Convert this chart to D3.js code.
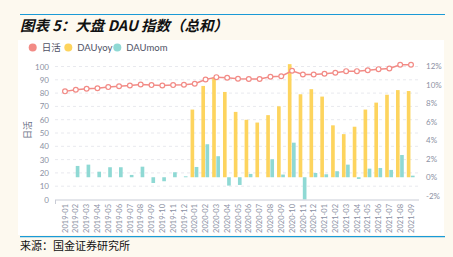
<!DOCTYPE html>
<html>
<head>
    <meta charset="utf-8">
    <script src="https://d3js.org/d3.v7.min.js"></script>
    <style>
        body { margin: 0; background: #fdf9ef; }
        svg { display: block; }
    </style>
</head>
<body>
    <div id="chart"></div>

    <script>

        // 월별 데이터
        const months = [
            "2019-01","2019-02","2019-03","2019-04","2019-05","2019-06","2019-07","2019-08","2019-09","2019-10","2019-11","2019-12",
            "2020-01","2020-02","2020-03","2020-04","2020-05","2020-06","2020-07","2020-08","2020-09","2020-10","2020-11","2020-12",
            "2021-01","2021-02","2021-03","2021-04","2021-05","2021-06","2021-07","2021-08","2021-09"
        ];
        const dau = [
            81.3, 82.5, 83.3, 83.7, 84.5, 85.2, 85.7, 86.5, 86.0, 85.7, 86.0, 86.3,
            87.0, 90.2, 92.0, 91.5, 90.8, 90.6, 90.6, 92.3, 92.7, 96.8, 94.0, 94.0,
            94.5, 95.3, 96.5, 96.5, 97.2, 98.0, 98.5, 101.3, 101.3
        ];
        const dauYoy = [
            null, null, null, null, null, null, null, null, null, null, null, null,
            7.3, 9.85, 10.75, 9.2, 7.05, 6.2, 5.9, 6.7, 7.65, 12.2, 8.95, 9.5,
            8.7, 5.6, 4.65, 5.45, 7.3, 8.05, 8.9, 9.4, 9.3
        ];
        const dauMom = [
            null, 1.22, 1.36, 0.6, 1.08, 1.08, 0.25, 1.14, -0.62, -0.43, 0.54, 0.1,
            1.11, 3.56, 2.27, -0.9, -0.83, 0.36, 0, 1.94, 0.29, 3.73, -2.4, 0.46,
            0.32, 0.65, 1.36, -0.18, 0.93, 1.0, 0.79, 2.4, 0.17
        ];
        const leftTicks = [0, 10, 20, 30, 40, 50, 60, 70, 80, 90, 100];
        const rightTicks = [-2, 0, 2, 4, 6, 8, 10, 12];
        const legendNames = ["日活", "DAUyoy", "DAUmom"];

        const width = 453, height = 257;
        const colRed = "#f28b86", colYellow = "#fdd45e", colTeal = "#8fd9d4";
        const font = "Lato, 'Noto Sans CJK SC', sans-serif";

        const svg = d3.select("#chart")
            .append("svg")
            .attr("width", width)
            .attr("height", height);

        // 상단 라인 + 제목
        svg.append("line")
            .attr("x1", 20).attr("x2", 445).attr("y1", 14.5).attr("y2", 14.5)
            .attr("stroke", "#1a9ad6").attr("stroke-width", 1.2);

        svg.append("text")
            .attr("x", 20).attr("y", 31)
            .attr("font-family", "'Noto Sans CJK SC', sans-serif")
            .attr("font-size", 14.5)
            .attr("font-weight", "bold")
            .attr("font-style", "italic")
            .attr("fill", "#111")
            .text("图表 5：大盘 DAU 指数（总和）");

        // 흰색 차트 영역
        svg.append("rect")
            .attr("x", 18).attr("y", 40).attr("width", 426).attr("height", 195)
            .attr("fill", "#ffffff");

        // 스케일
        const x = d3.scalePoint().domain(months).range([65, 411]);
        const sub = d3.scaleBand().domain(["yoy", "mom"]).range([-4.2, 3.6]).paddingInner(0.12);
        const yL = d3.scaleLinear().domain([0, 100]).range([199.5, 66.5]);
        const yR = d3.scaleLinear().domain([-2.4, 12]).range([199.5, 66]);

        // 그리드
        svg.append("g")
            .selectAll("line")
            .data(leftTicks.filter(d => d > 0))
            .enter()
            .append("line")
            .attr("x1", 55).attr("x2", 419)
            .attr("y1", d => yL(d)).attr("y2", d => yL(d))
            .attr("stroke", "#e8e9ee")
            .attr("stroke-dasharray", "3,3");

        // 왼쪽 축
        const axisL = svg.append("g")
            .attr("transform", "translate(55,0)")
            .call(d3.axisLeft(yL).tickValues(leftTicks).tickSize(0).tickPadding(6));
        axisL.select(".domain").remove();

        // 오른쪽 축
        const axisR = svg.append("g")
            .attr("transform", "translate(419,0)")
            .call(d3.axisRight(yR).tickValues(rightTicks).tickSize(0).tickPadding(7)
                .tickFormat(d => d + "%"));
        axisR.select(".domain").remove();

        svg.selectAll(".tick text")
            .attr("font-family", font)
            .attr("font-size", 8)
            .attr("fill", "#8c91a3");

        // 막대
        svg.append("g")
            .selectAll("rect")
            .data(months.map((m, i) => ({m: m, v: dauYoy[i]})).filter(d => d.v !== null))
            .enter()
            .append("rect")
            .attr("x", d => x(d.m) + sub("yoy"))
            .attr("width", sub.bandwidth())
            .attr("y", d => yR(Math.max(0, d.v)))
            .attr("height", d => Math.abs(yR(d.v) - yR(0)))
            .attr("fill", colYellow);

        svg.append("g")
            .selectAll("rect")
            .data(months.map((m, i) => ({m: m, v: dauMom[i]})).filter(d => d.v !== null))
            .enter()
            .append("rect")
            .attr("x", d => x(d.m) + sub("mom"))
            .attr("width", sub.bandwidth())
            .attr("y", d => yR(Math.max(0, d.v)))
            .attr("height", d => Math.abs(yR(d.v) - yR(0)))
            .attr("fill", colTeal);

        // x축
        svg.append("line")
            .attr("x1", 55).attr("x2", 419).attr("y1", 200).attr("y2", 200)
            .attr("stroke", "#c9ccd6");
        svg.append("line")
            .attr("x1", 55.5).attr("x2", 55.5).attr("y1", 200).attr("y2", 204)
            .attr("stroke", "#c9ccd6");

        svg.append("g")
            .selectAll("text")
            .data(months)
            .enter()
            .append("text")
            .attr("transform", d => `translate(${x(d)},204) rotate(-90)`)
            .attr("text-anchor", "end")
            .attr("dy", "0.35em")
            .attr("font-family", font)
            .attr("font-size", 7.5)
            .attr("fill", "#8c91a3")
            .text(d => d);

        // 선 (日活)
        const line = d3.line()
            .x((d, i) => x(months[i]))
            .y(d => yL(d));

        svg.append("path")
            .datum(dau)
            .attr("d", line)
            .attr("fill", "none")
            .attr("stroke", colRed)
            .attr("stroke-width", 1.5);

        svg.append("g")
            .selectAll("circle")
            .data(dau)
            .enter()
            .append("circle")
            .attr("cx", (d, i) => x(months[i]))
            .attr("cy", d => yL(d))
            .attr("r", 2.4)
            .attr("fill", "#fff")
            .attr("stroke", colRed)
            .attr("stroke-width", 1.2);

        // 왼쪽 축 이름
        svg.append("text")
            .attr("transform", "translate(28,130) rotate(-90)")
            .attr("text-anchor", "middle")
            .attr("dy", "0.35em")
            .attr("font-family", font)
            .attr("font-size", 9)
            .attr("fill", "#6b7085")
            .text("日活");

        // 범례
        const legendX = [32.7, 68.3, 117.3];
        const legendCol = [colRed, colYellow, colTeal];
        const legend = svg.append("g")
            .selectAll("g")
            .data(legendNames)
            .enter()
            .append("g")
            .attr("transform", (d, i) => `translate(${legendX[i]},47.5)`);
        legend.append("circle")
            .attr("r", 4)
            .attr("fill", (d, i) => legendCol[i]);
        legend.append("text")
            .attr("x", 9)
            .attr("dy", "0.35em")
            .attr("font-family", font)
            .attr("font-size", 9.5)
            .attr("fill", "#4f5366")
            .text(d => d);

        // 하단
        svg.append("line")
            .attr("x1", 20).attr("x2", 445).attr("y1", 236.7).attr("y2", 236.7)
            .attr("stroke", "#1a9ad6").attr("stroke-width", 1.2);

        svg.append("text")
            .attr("x", 20).attr("y", 250)
            .attr("font-family", "'Noto Sans CJK SC', serif")
            .attr("font-size", 11)
            .attr("fill", "#111")
            .text("来源：国金证券研究所");

    </script>
</body>
</html>
